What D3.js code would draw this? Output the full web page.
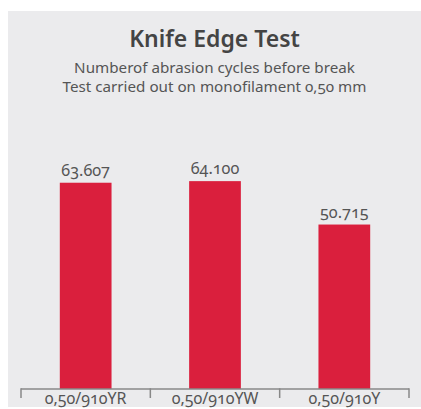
<!DOCTYPE html>
<html>
<head>
<meta charset="utf-8">
<script src="https://cdnjs.cloudflare.com/ajax/libs/d3/7.8.5/d3.min.js"></script>
<style>
    body { margin: 0; background: #fff; }
    svg text { font-family: "Noto Sans", "Open Sans", sans-serif; font-variant-numeric: oldstyle-nums; }
</style>
</head>
<body>
<div id="chart"></div>
<script>
(function () {
    'use strict';

    var categories = ["0,50/910YR", "0,50/910YW", "0,50/910Y"];
    var values = [63607, 64100, 50715];
    var valueLabels = ["63.607", "64.100", "50.715"];
    var title = "Knife Edge Test";
    var subtitle = ["Numberof abrasion cycles before break", "Test carried out on monofilament 0,50 mm"];

    var width = 421, height = 409;

    var svg = d3.select("#chart")
        .append("svg")
        .attr("width", width)
        .attr("height", height);

    // grey panel
    svg.append("rect")
        .attr("x", 8)
        .attr("y", 11)
        .attr("width", width - 8)
        .attr("height", 396)
        .attr("fill", "#ebebed");

    var x = d3.scaleBand()
        .domain(categories)
        .range([21, 409])
        .paddingInner(0.6)
        .paddingOuter(0.3);

    var y = d3.scaleLinear()
        .domain([0, 70000])
        .range([389, 162]);

    // title + subtitle
    svg.append("text")
        .attr("x", 214.5)
        .attr("y", 47)
        .attr("text-anchor", "middle")
        .attr("font-size", 23)
        .attr("font-weight", 600)
        .attr("fill", "#444")
        .text(title);

    svg.selectAll("text.sub")
        .data(subtitle)
        .enter()
        .append("text")
        .attr("class", "sub")
        .attr("x", 214.5)
        .attr("y", function (d, i) { return 73 + i * 19; })
        .attr("text-anchor", "middle")
        .attr("font-size", 15.2)
        .attr("fill", "#555")
        .text(function (d) { return d; });

    // bars
    svg.selectAll("rect.bar")
        .data(values)
        .enter()
        .append("rect")
        .attr("class", "bar")
        .attr("x", function (d, i) { return x(categories[i]); })
        .attr("y", function (d) { return y(d); })
        .attr("width", x.bandwidth())
        .attr("height", function (d) { return y(0) - y(d); })
        .attr("fill", "#da1f3d");

    // value labels
    svg.selectAll("text.val")
        .data(values)
        .enter()
        .append("text")
        .attr("class", "val")
        .attr("x", function (d, i) { return x(categories[i]) + x.bandwidth() / 2; })
        .attr("y", function (d) { return y(d) - 7; })
        .attr("text-anchor", "middle")
        .attr("font-size", 16.2)
        .attr("fill", "#555")
        .text(function (d, i) { return valueLabels[i]; });

    // x axis: line with ticks at band boundaries
    var step = x.step();
    var bounds = d3.range(categories.length + 1).map(function (i) { return 21 + i * step; });

    svg.append("line")
        .attr("x1", 21).attr("x2", 409)
        .attr("y1", 389).attr("y2", 389)
        .attr("stroke", "#888").attr("stroke-width", 1.5);

    svg.selectAll("line.tick")
        .data(bounds)
        .enter()
        .append("line")
        .attr("class", "tick")
        .attr("x1", function (d) { return d; })
        .attr("x2", function (d) { return d; })
        .attr("y1", 388.25).attr("y2", 398)
        .attr("stroke", "#888").attr("stroke-width", 1.5);

    svg.selectAll("text.cat")
        .data(categories)
        .enter()
        .append("text")
        .attr("class", "cat")
        .attr("x", function (d) { return x(d) + x.bandwidth() / 2; })
        .attr("y", 404)
        .attr("text-anchor", "middle")
        .attr("font-size", 16)
        .attr("fill", "#555")
        .text(function (d) { return d; });
}());
</script>
</body>
</html>
